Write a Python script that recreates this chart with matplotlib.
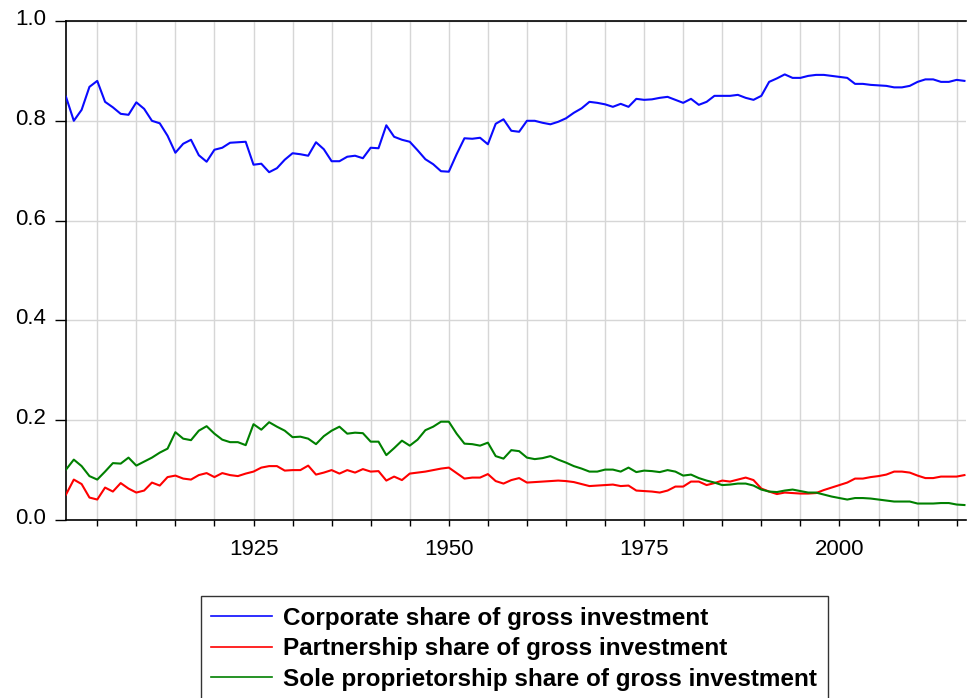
import matplotlib
matplotlib.use("Agg")
import matplotlib.pyplot as plt
import matplotlib.transforms as mtransforms
import numpy as np

years = list(range(1901, 2017))

corporate = [
    0.848, 0.800, 0.822, 0.868, 0.880, 0.838, 0.827, 0.814, 0.812, 0.837,
    0.824, 0.800, 0.795, 0.770, 0.736, 0.754, 0.762, 0.731, 0.718, 0.742,
    0.746, 0.756, 0.757, 0.758, 0.712, 0.714, 0.697, 0.705, 0.722, 0.735,
    0.733, 0.730, 0.757, 0.743, 0.719, 0.719, 0.728, 0.730, 0.725, 0.746,
    0.745, 0.791, 0.768, 0.762, 0.758, 0.741, 0.723, 0.713, 0.699, 0.698,
    0.733, 0.765, 0.764, 0.766, 0.753, 0.794, 0.803, 0.780, 0.778, 0.800,
    0.800, 0.796, 0.793, 0.798, 0.805, 0.816, 0.825, 0.838, 0.836, 0.833,
    0.828, 0.834, 0.828, 0.844, 0.842, 0.843, 0.846, 0.848, 0.842, 0.836,
    0.844, 0.832, 0.838, 0.850, 0.850, 0.850, 0.852, 0.846, 0.842, 0.850,
    0.878, 0.885, 0.893, 0.886, 0.886, 0.890, 0.892, 0.892, 0.890, 0.888,
    0.886, 0.874, 0.874, 0.872, 0.871, 0.870, 0.867, 0.867, 0.870, 0.878,
    0.883, 0.883, 0.878, 0.878, 0.882, 0.880,
]

partnership = [
    0.051, 0.081, 0.072, 0.045, 0.041, 0.065, 0.057, 0.074, 0.063, 0.055,
    0.059, 0.075, 0.069, 0.086, 0.089, 0.083, 0.081, 0.090, 0.094, 0.086,
    0.094, 0.090, 0.088, 0.093, 0.097, 0.105, 0.108, 0.108, 0.099, 0.100,
    0.100, 0.109, 0.091, 0.095, 0.100, 0.093, 0.100, 0.095, 0.102, 0.097,
    0.098, 0.079, 0.087, 0.080, 0.093, 0.095, 0.097, 0.100, 0.103, 0.105,
    0.094, 0.083, 0.085, 0.085, 0.092, 0.078, 0.073, 0.080, 0.084, 0.075,
    0.076, 0.077, 0.078, 0.079, 0.078, 0.076, 0.072, 0.068, 0.069, 0.070,
    0.071, 0.068, 0.069, 0.059, 0.058, 0.057, 0.055, 0.059, 0.067, 0.067,
    0.077, 0.077, 0.070, 0.074, 0.079, 0.077, 0.081, 0.085, 0.080, 0.063,
    0.057, 0.052, 0.055, 0.054, 0.053, 0.053, 0.054, 0.060, 0.065, 0.070,
    0.075, 0.083, 0.083, 0.086, 0.088, 0.091, 0.097, 0.097, 0.095, 0.089,
    0.084, 0.084, 0.087, 0.087, 0.087, 0.090,
]

sole_prop = [
    0.101, 0.121, 0.108, 0.088, 0.081, 0.097, 0.114, 0.113, 0.125, 0.109,
    0.117, 0.125, 0.135, 0.143, 0.176, 0.163, 0.160, 0.179, 0.188, 0.173,
    0.161, 0.156, 0.156, 0.150, 0.192, 0.181, 0.196, 0.187, 0.179, 0.166,
    0.167, 0.163, 0.152, 0.168, 0.179, 0.187, 0.173, 0.175, 0.174, 0.157,
    0.157, 0.130, 0.144, 0.159, 0.149, 0.161, 0.180, 0.187, 0.197, 0.197,
    0.173, 0.153, 0.152, 0.149, 0.155, 0.128, 0.123, 0.140, 0.138, 0.125,
    0.122, 0.124, 0.128, 0.121, 0.115, 0.108, 0.103, 0.097, 0.097, 0.101,
    0.101, 0.097, 0.105, 0.096, 0.099, 0.098, 0.096, 0.100, 0.097, 0.089,
    0.091, 0.084, 0.079, 0.075, 0.070, 0.071, 0.073, 0.073, 0.069, 0.061,
    0.057, 0.056, 0.059, 0.061, 0.058, 0.055, 0.055, 0.051, 0.047, 0.044,
    0.041, 0.044, 0.044, 0.043, 0.041, 0.039, 0.037, 0.037, 0.037, 0.033,
    0.033, 0.033, 0.034, 0.034, 0.031, 0.030,
]

labels = [
    "Corporate share of gross investment",
    "Partnership share of gross investment",
    "Sole proprietorship share of gross investment",
]
colors = ["#0a0aff", "#ff0000", "#008000"]

y_ticks = [0.0, 0.2, 0.4, 0.6, 0.8, 1.0]
x_grid_years = list(range(1905, 2016, 5))
x_label_years = [1925, 1950, 1975, 2000]

plt.rcParams["font.family"] = ["Liberation Sans", "DejaVu Sans"]

W, H = 967, 698
fig = plt.figure(figsize=(W / 100, H / 100), dpi=100)
ax = fig.add_axes([66 / W, 1 - 520 / H, (966 - 66) / W, (520 - 21) / H])

for vals, lab, col in zip([corporate, partnership, sole_prop], labels, colors):
    ax.plot(years, vals, color=col, lw=1.5, label=lab, zorder=3)

ax.set_xlim(1901, 2016.2)
ax.set_ylim(0, 1.0)
ax.set_yticks(y_ticks)
ax.set_yticklabels([f"{v:.1f}" for v in y_ticks])
ax.set_xticks(x_grid_years)
ax.set_xticklabels([str(y) if y in x_label_years else "" for y in x_grid_years])

ax.grid(True, color="#d6d6d6", lw=1.0, zorder=0)
ax.set_axisbelow(True)
for s in ["left", "top", "bottom"]:
    ax.spines[s].set_color("black")
    ax.spines[s].set_linewidth(1.2)
ax.spines["right"].set_visible(False)

ax.tick_params(axis="y", direction="out", length=8, width=1, labelsize=16, pad=6.5, colors="black")
ax.tick_params(axis="x", direction="out", length=4.5, width=1, labelsize=16, pad=9, colors="black")

# y tick labels sit slightly above their ticks in the reference
shift = mtransforms.ScaledTranslation(0, 4 / 100, fig.dpi_scale_trans)
for lbl in ax.get_yticklabels():
    lbl.set_transform(lbl.get_transform() + shift)

leg = fig.legend(
    loc="upper left",
    bbox_to_anchor=(200.5 / W, 1 - 596 / H),
    frameon=True,
    fancybox=False,
    edgecolor="black",
    prop={"weight": "bold", "size": 17.5},
    handlelength=2.5,
    handletextpad=0.45,
    labelspacing=0.3,
    borderpad=0.45,
    borderaxespad=0,
)
leg.get_frame().set_linewidth(1.0)
for line in leg.get_lines():
    line.set_linewidth(1.2)

fig.savefig("out.png", dpi=100)
